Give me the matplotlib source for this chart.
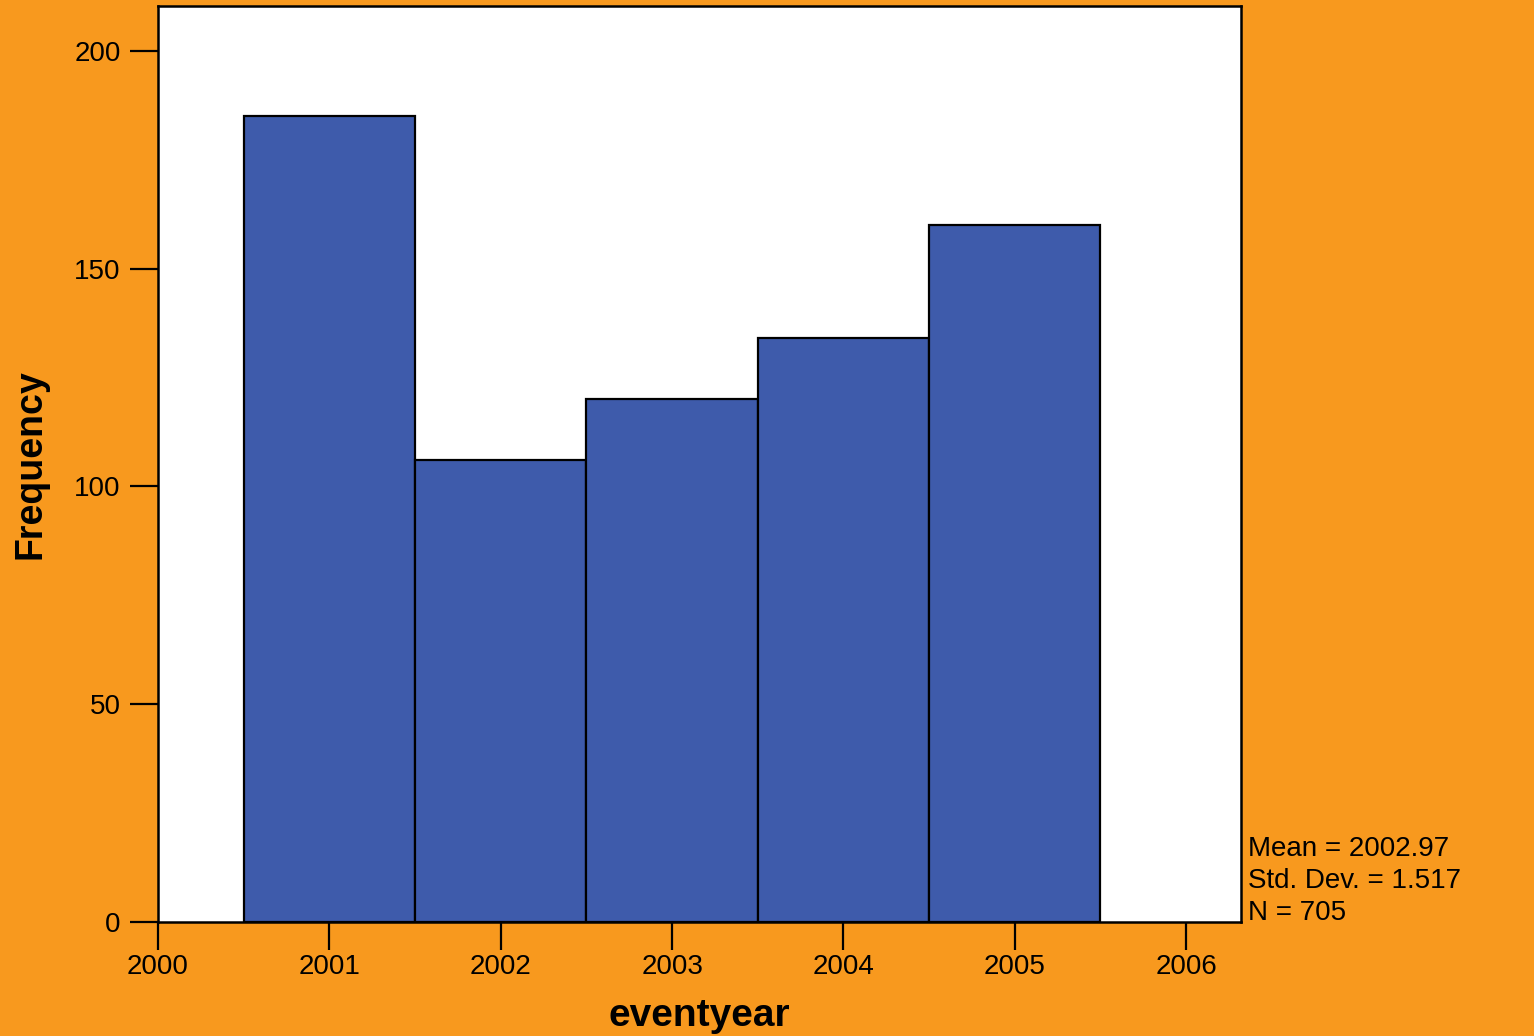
import matplotlib.pyplot as plt

# histogram data
years = [2001, 2002, 2003, 2004, 2005]
counts = [185, 106, 120, 134, 160]
xticks = [2000, 2001, 2002, 2003, 2004, 2005, 2006]
yticks = [0, 50, 100, 150, 200]
stats = ["Mean = 2002.97", "Std. Dev. = 1.517", "N = 705"]

orange = '#F8991E'
blue = '#3E5BAB'

plt.rcParams['font.family'] = ['Liberation Sans', 'DejaVu Sans']

fig = plt.figure(figsize=(15.34, 10.36), dpi=100)
fig.patch.set_facecolor(orange)
ax = fig.add_axes([158/1534, 114/1036, (1241-158)/1534, (922-6)/1036])
ax.set_facecolor('white')

ax.bar(years, counts, width=1.0, align='center', color=blue,
       edgecolor='black', linewidth=1.6)

ax.set_xlim(2000, 2006.32)
ax.set_ylim(0, 210.3)
ax.set_xticks(xticks)
ax.set_yticks(yticks)
ax.tick_params(axis='both', direction='out', length=20, width=1.6,
               labelsize=20, colors='black')
ax.tick_params(axis='x', pad=3)
ax.tick_params(axis='y', pad=7)

for s in ax.spines.values():
    s.set_linewidth(1.8)
    s.set_color('black')

ax.set_xlabel('eventyear', fontsize=28, fontweight='bold', labelpad=13)
ax.set_ylabel('Frequency', fontsize=27, fontweight='bold', labelpad=18)

# stats box on the right
fig.text(1248/1534, 1-836/1036, "\n".join(stats), fontsize=20,
         va='top', ha='left', linespacing=1.3)

fig.savefig('out.png', dpi=100, facecolor=orange)
